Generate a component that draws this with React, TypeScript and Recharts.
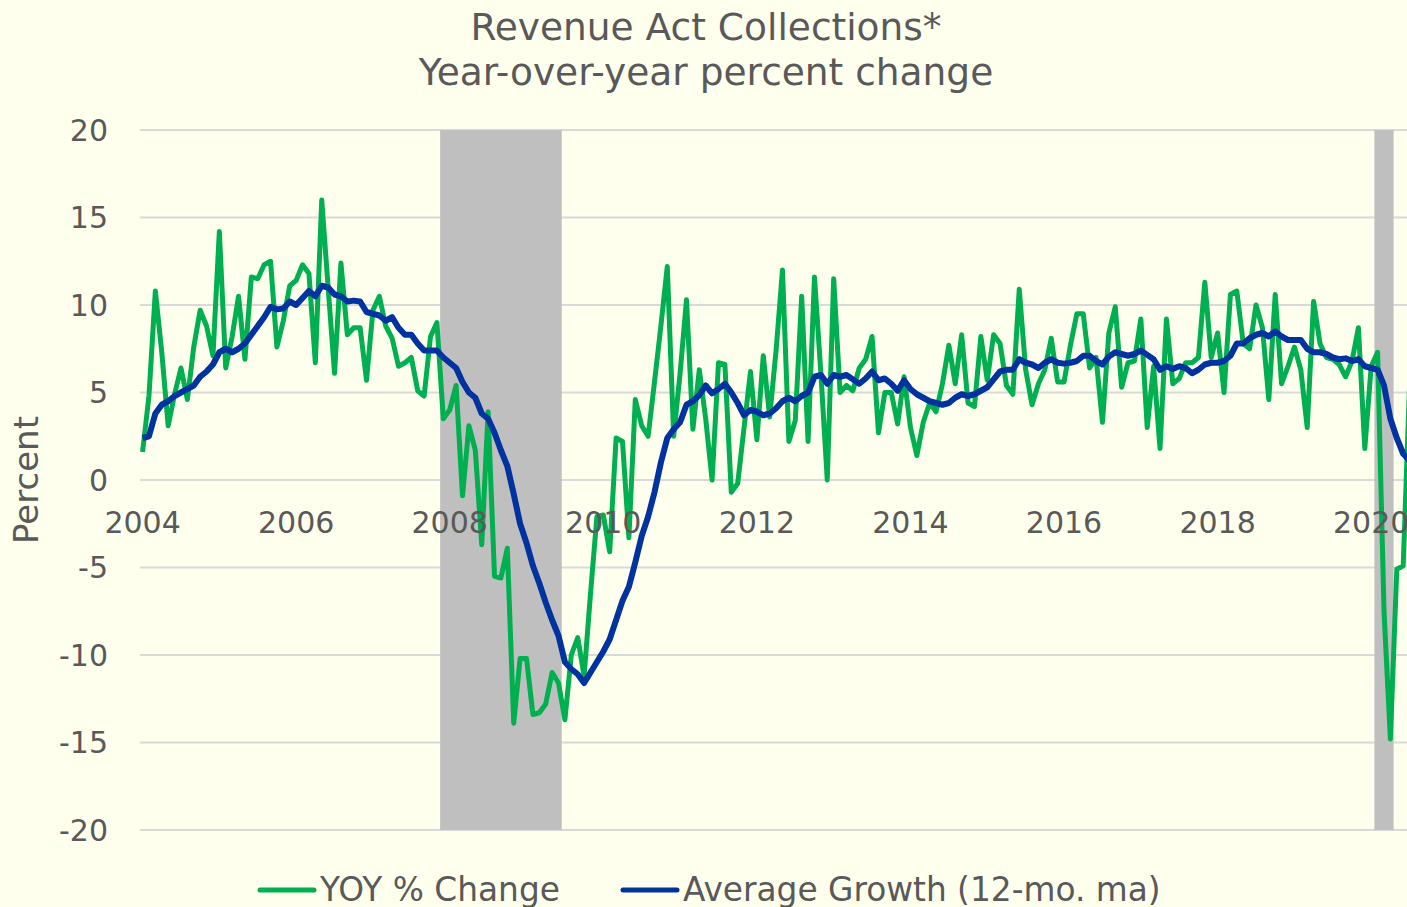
import { CartesianGrid, Line, LineChart, ReferenceArea, XAxis, YAxis } from "recharts"

// monthly series, Jan 2004 .. Jul 2020 (12 values per row)
const startYear = 2004

const yoyChange = [
  1.6, 4.8, 10.8, 7.3, 3.1, 4.9, 6.4, 4.6, 7.6, 9.7, 8.8, 7.1,
  14.2, 6.4, 8.2, 10.5, 6.9, 11.6, 11.5, 12.3, 12.5, 7.6, 9.1, 11.1,
  11.4, 12.3, 11.8, 6.7, 16.0, 11.0, 6.1, 12.4, 8.3, 8.7, 8.7, 5.7,
  9.7, 10.5, 8.8, 8.1, 6.5, 6.7, 7.0, 5.1, 4.8, 8.2, 9.0, 3.5,
  4.0, 5.4, -0.9, 3.1, 1.7, -3.7, 3.9, -5.5, -5.6, -3.9, -13.9, -10.2,
  -10.2, -13.4, -13.3, -12.8, -11.0, -11.6, -13.7, -10.0, -9.0, -11.2, -6.5, -2.1,
  -2.0, -4.1, 2.4, 2.2, -3.3, 4.6, 3.1, 2.5, 5.6, 8.8, 12.2, 2.5,
  6.1, 10.3, 2.9, 6.3, 3.5, 0.0, 6.7, 6.6, -0.7, -0.2, 3.0, 6.2,
  2.3, 7.1, 3.6, 7.4, 12.0, 2.2, 3.4, 10.5, 2.2, 11.6, 6.1, 0.0,
  11.5, 5.0, 5.4, 5.1, 6.4, 6.9, 8.2, 2.7, 5.0, 5.0, 3.2, 5.9,
  3.0, 1.4, 3.3, 4.4, 3.9, 5.5, 7.7, 5.5, 8.3, 4.4, 4.2, 8.2,
  5.7, 8.3, 7.8, 5.4, 4.9, 10.9, 6.3, 4.3, 5.5, 6.3, 8.1, 5.6,
  5.6, 7.7, 9.5, 9.5, 6.4, 7.0, 3.3, 8.4, 9.9, 5.3, 6.7, 6.8,
  9.2, 3.0, 6.5, 1.8, 9.2, 5.5, 5.8, 6.7, 6.7, 7.0, 11.3, 7.0,
  8.4, 5.0, 10.6, 10.8, 7.8, 7.5, 10.0, 8.7, 4.6, 10.6, 5.5, 6.5,
  7.6, 6.3, 3.0, 10.2, 7.8, 7.0, 6.9, 6.6, 5.9, 6.8, 8.7, 1.8,
  6.5, 7.3, -7.5, -14.8, -5.1, -4.9, 5.5,
]

const avgGrowth = [
  2.4, 2.5, 3.8, 4.3, 4.5, 4.8, 5.0, 5.2, 5.4, 5.9, 6.2, 6.6,
  7.3, 7.5, 7.3, 7.5, 7.8, 8.3, 8.8, 9.3, 9.9, 9.75, 9.8, 10.2,
  10.0, 10.4, 10.8, 10.5, 11.1, 11.0, 10.6, 10.5, 10.2, 10.25, 10.2, 9.6,
  9.5, 9.4, 9.1, 9.3, 8.7, 8.3, 8.3, 7.8, 7.4, 7.4, 7.4, 7.0,
  6.7, 6.4, 5.6, 5.0, 4.7, 3.8, 3.5, 2.7, 1.7, 0.8, -0.8, -2.5,
  -3.6, -4.9, -5.9, -7.0, -8.0, -8.9, -10.4, -10.8, -11.1, -11.6, -11.0, -10.4,
  -9.8, -9.1, -8.0, -6.9, -6.1, -4.7, -3.2, -2.1, -0.7, 1.0, 2.4, 2.9,
  3.3, 4.3, 4.5, 4.85, 5.4, 4.95, 5.2, 5.5, 5.0, 4.4, 3.7, 4.0,
  3.9, 3.7, 3.8, 4.1, 4.5, 4.7, 4.5, 4.8, 5.0, 5.9, 6.0, 5.5,
  6.0, 5.9, 6.0, 5.75, 5.5, 5.8, 6.2, 5.7, 5.8, 5.5, 5.1, 5.7,
  5.2, 4.9, 4.7, 4.5, 4.4, 4.3, 4.4, 4.7, 4.9, 4.8, 4.9, 5.1,
  5.3, 5.75, 6.2, 6.3, 6.3, 6.9, 6.7, 6.6, 6.4, 6.7, 6.9, 6.7,
  6.65, 6.7, 6.8, 7.1, 7.1, 6.8, 6.6, 7.05, 7.3, 7.2, 7.1, 7.2,
  7.4, 7.15, 6.9, 6.3, 6.5, 6.35, 6.5, 6.4, 6.1, 6.3, 6.6, 6.7,
  6.7, 6.8, 7.1, 7.8, 7.8, 8.1, 8.3, 8.4, 8.2, 8.5, 8.2, 8.0,
  8.0, 8.0, 7.5, 7.3, 7.3, 7.2, 7.0, 6.9, 6.95, 6.8, 6.9, 6.5,
  6.4, 6.3, 5.4, 3.5, 2.4, 1.5, 1.1,
]

const yearTicks = [2004, 2006, 2008, 2010, 2012, 2014, 2016, 2018, 2020]
const percentTicks = [-20, -15, -10, -5, 0, 5, 10, 15, 20]

// NBER recessions, first and last month
const recessionStart = ["2007-12", "2020-02"]
const recessionEnd = ["2009-06", "2020-04"]

const seriesNames = ["YOY % Change", "Average Growth (12-mo. ma)"]

const FONT = '"DejaVu Sans", Verdana, sans-serif'
const TEXT = "#595959"
const BG = "#FFFFEE"
const GREEN = "#00B050"
const BLUE = "#0033A0"

const CHART_W = 1440
const CHART_H = 860
const MARGIN = { top: 130, right: 24, bottom: 0, left: 0 }
const X_AXIS_H = 30
const PLOT_H = CHART_H - MARGIN.top - MARGIN.bottom - X_AXIS_H
const Y_MIN = percentTicks[0]
const Y_MAX = percentTicks[percentTicks.length - 1]

const monthIndex = (ym: string) => {
  const [y, m] = ym.split("-").map(Number)
  return (y - startYear) * 12 + (m - 1)
}

const data = yoyChange.map((v, i) => ({ m: i, yoy: v, avg: avgGrowth[i] }))

// year labels sit just under the zero line, like Excel's "axis crosses at 0"
function YearTick(props: any) {
  const { x, y, payload } = props
  const zeroShift = (PLOT_H * (0 - Y_MIN)) / (Y_MAX - Y_MIN)
  return (
    <text
      x={x}
      y={y - zeroShift + 42}
      dy="0.36em"
      textAnchor="middle"
      fill={TEXT}
      fontSize={30}
      fontFamily={FONT}
    >
      {startYear + payload.value / 12}
    </text>
  )
}

function LegendKey({ color, label }: { color: string; label: string }) {
  return (
    <div style={{ display: "flex", alignItems: "center" }}>
      <svg width={60} height={10} style={{ marginRight: 3 }}>
        <line x1={3} y1={5} x2={57} y2={5} stroke={color} strokeWidth={5} strokeLinecap="round" />
      </svg>
      <span>{label}</span>
    </div>
  )
}

export default function App() {
  return (
    <div
      style={{
        position: "absolute",
        left: 0,
        top: 0,
        width: 1407,
        height: 907,
        overflow: "hidden",
        background: BG,
        fontFamily: FONT,
        color: TEXT,
      }}
    >
      <div
        style={{
          position: "absolute",
          left: 0,
          top: 5,
          width: 1412,
          textAlign: "center",
          fontSize: 37.5,
          lineHeight: "45px",
        }}
      >
        <div>Revenue Act Collections*</div>
        <div>Year-over-year percent change</div>
      </div>

      <div
        style={{
          position: "absolute",
          left: 26,
          top: 480,
          transform: "translate(-50%, -50%) rotate(-90deg)",
          fontSize: 34,
          whiteSpace: "nowrap",
        }}
      >
        Percent
      </div>

      <LineChart width={CHART_W} height={CHART_H} data={data} margin={MARGIN}>
        <CartesianGrid vertical={false} stroke="#D9D9D9" strokeWidth={2} />
        {recessionStart.map((s, k) => (
          <ReferenceArea
            key={s}
            x1={monthIndex(s) - 0.5}
            x2={monthIndex(recessionEnd[k]) + 0.5}
            fill="#BFBFBF"
            fillOpacity={1}
            stroke="none"
          />
        ))}
        <XAxis
          dataKey="m"
          type="number"
          domain={[-0.4, 199]}
          allowDataOverflow
          ticks={yearTicks.map((y) => (y - startYear) * 12)}
          interval={0}
          height={X_AXIS_H}
          axisLine={false}
          tickLine={false}
          tickSize={0}
          tickMargin={0}
          tick={<YearTick />}
        />
        <YAxis
          type="number"
          domain={[Y_MIN, Y_MAX]}
          ticks={percentTicks}
          interval={0}
          width={140}
          axisLine={false}
          tickLine={false}
          tickSize={0}
          tickMargin={32}
          tick={{ fill: TEXT, fontSize: 30, fontFamily: FONT }}
        />
        <Line
          type="linear"
          dataKey="yoy"
          name={seriesNames[0]}
          stroke={GREEN}
          strokeWidth={5}
          strokeLinejoin="round"
          dot={false}
          isAnimationActive={false}
        />
        <Line
          type="linear"
          dataKey="avg"
          name={seriesNames[1]}
          stroke={BLUE}
          strokeWidth={6}
          strokeLinejoin="round"
          dot={false}
          isAnimationActive={false}
        />
      </LineChart>

      <div
        style={{
          position: "absolute",
          left: 257,
          top: 870,
          height: 40,
          display: "flex",
          alignItems: "center",
          gap: 60,
          fontSize: 32.8,
          lineHeight: "40px",
          whiteSpace: "nowrap",
        }}
      >
        <LegendKey color={GREEN} label={seriesNames[0]} />
        <LegendKey color={BLUE} label={seriesNames[1]} />
      </div>
    </div>
  )
}
